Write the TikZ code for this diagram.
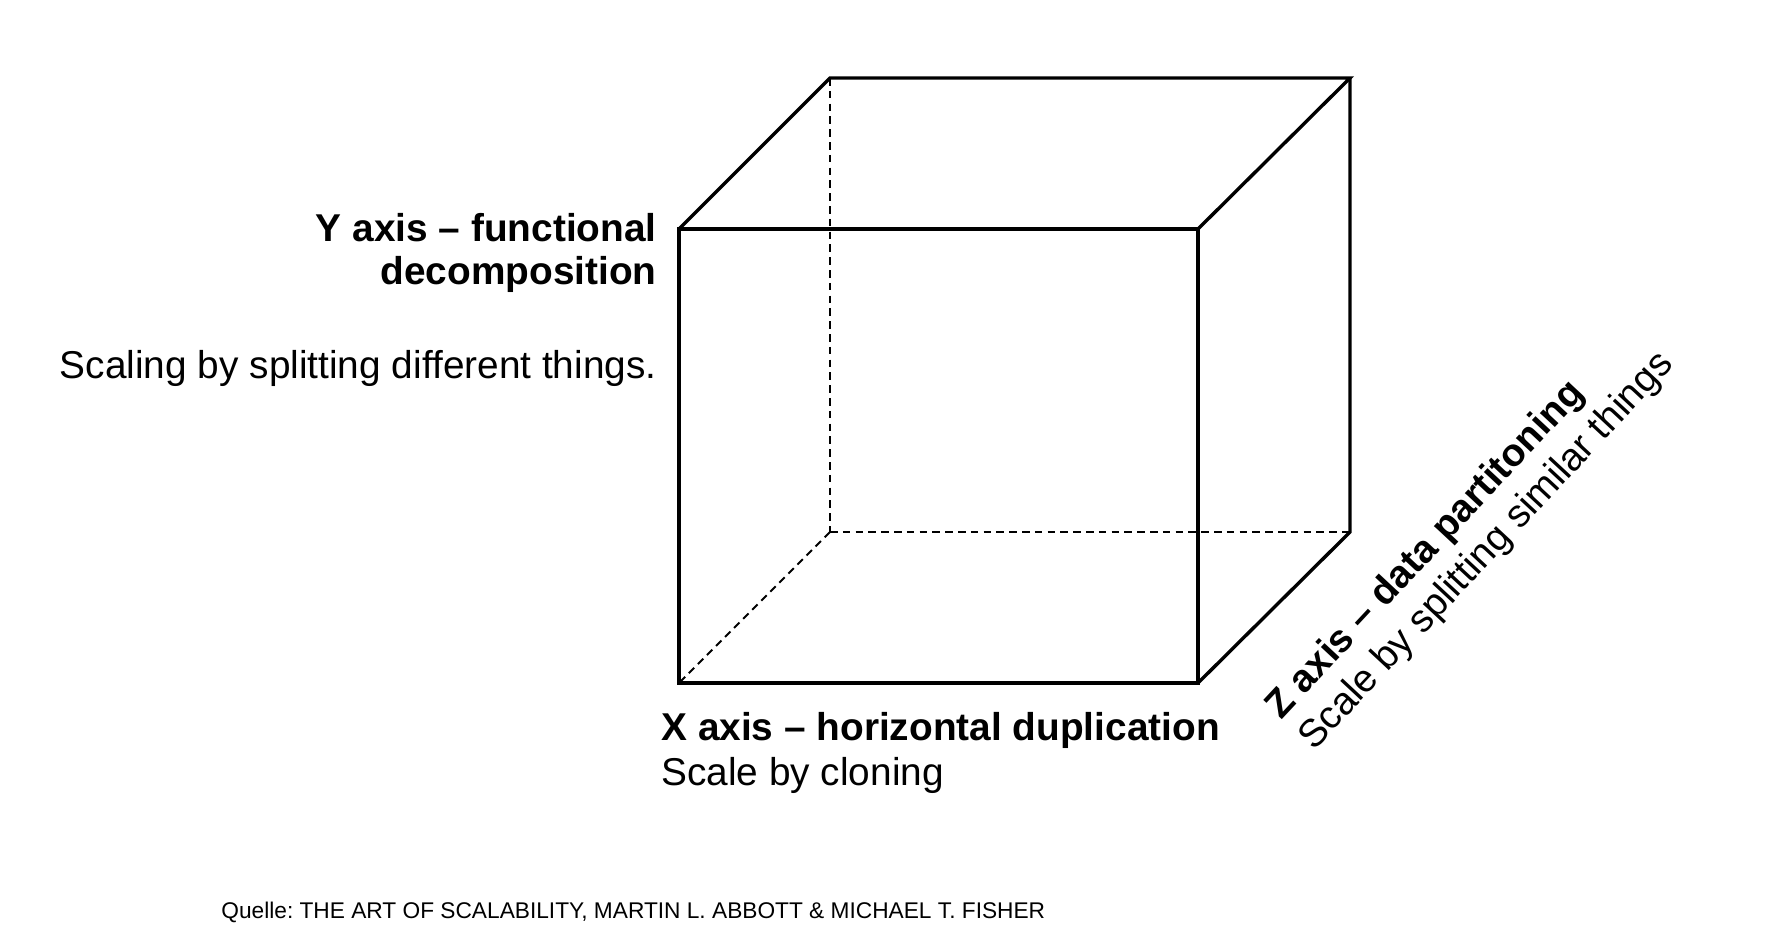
\documentclass[tikz,border=0pt]{standalone}
\usepackage{fontspec}
\setmainfont{Liberation Sans}
\frenchspacing
\begin{document}
\begin{tikzpicture}[x=0.5pt,y=-0.5pt,
  edge/.style={line width=1.7pt,line join=miter},
  hidden/.style={line width=1pt,dash pattern=on 3.8pt off 2.6pt},
  bigbold/.style={inner sep=0pt,font=\fontsize{19.4}{22}\selectfont\bfseries},
  bigreg/.style={inner sep=0pt,font=\fontsize{19.4}{22}\selectfont},
  small/.style={inner sep=0pt,font=\fontsize{11.35}{13}\selectfont}]
\useasboundingbox[fill=white] (0,0) rectangle (1781,942);
% cube corners
\coordinate (FTL) at (679,229);
\coordinate (FTR) at (1198,229);
\coordinate (FBR) at (1198,683);
\coordinate (FBL) at (679,683);
\coordinate (BTL) at (830,78);
\coordinate (BTR) at (1350,78);
\coordinate (BBR) at (1350,532);
\coordinate (BBL) at (830,532);
% hidden edges
\draw[hidden] (BTL) -- (BBL);
\draw[hidden] (BBL) -- (BBR);
\draw[hidden] (BBL) -- (FBL);
% visible edges
\draw[edge] (FTL) -- (FTR) -- (FBR) -- (FBL) -- cycle;
\draw[edge] (FTL) -- (BTL) -- (BTR) -- (FTR);
\draw[edge] (BTR) -- (BBR) -- (FBR);
% Y axis labels
\node[bigbold,anchor=base east] (y1) at (657,241) {Y axis -- functional};
\node[bigbold,anchor=base east] (y2) at (657,284) {decomposition};
\node[bigreg,anchor=base east] (y3) at (657,378) {Scaling by splitting different things.};
% X axis labels
\node[bigbold,anchor=base west] (x1) at (661,740) {X axis -- horizontal duplication};
\node[bigreg,anchor=base west] (x2) at (661,785) {Scale by cloning};
% Z axis labels
\node[bigbold,anchor=base west,rotate=47] (z1) at (1281,721) {Z axis -- data partitoning};
\node[bigreg,anchor=base west,rotate=47] (z2) at (1314,752) {Scale by splitting similar things};
% source
\node[small,anchor=base west] (src) at (221,918) {Quelle: THE ART OF SCALABILITY, MARTIN L. ABBOTT \& MICHAEL T. FISHER};
\end{tikzpicture}
\end{document}
